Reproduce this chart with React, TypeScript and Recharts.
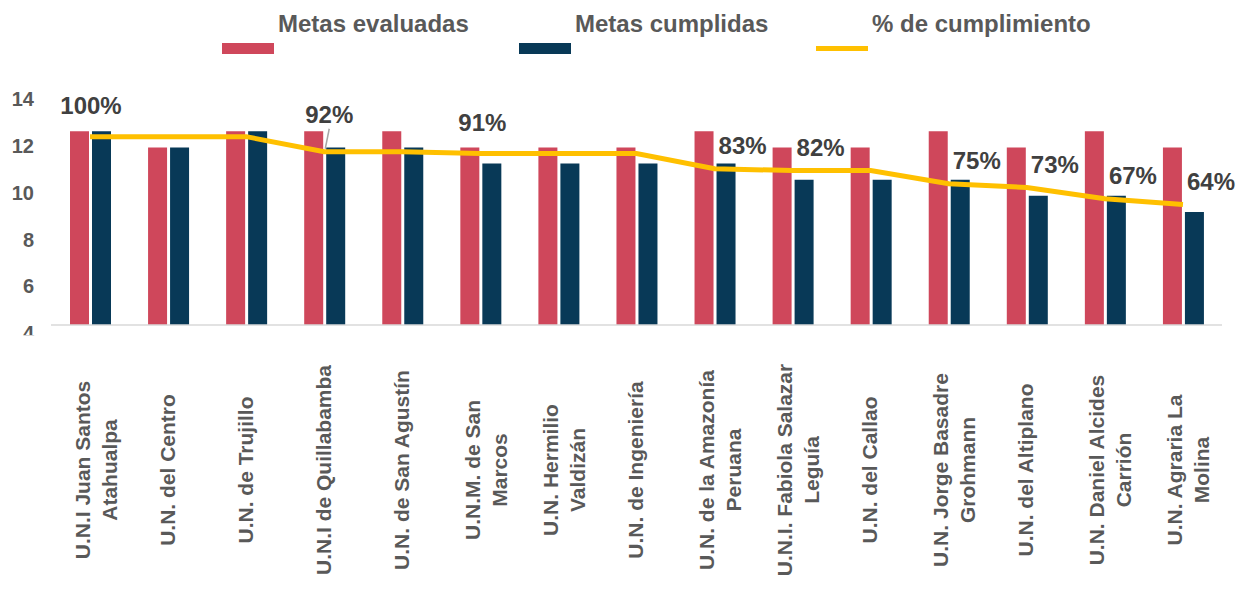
import { ComposedChart, Bar, Line, XAxis, YAxis, LabelList } from 'recharts';

const categories = [
  'U.N.I Juan Santos\nAtahualpa',
  'U.N. del Centro',
  'U.N. de Trujillo',
  'U.N.I de Quillabamba',
  'U.N. de San Agustín',
  'U.N.M. de San\nMarcos',
  'U.N. Hermilio\nValdizán',
  'U.N. de Ingeniería',
  'U.N. de la Amazonía\nPeruana',
  'U.N.I. Fabiola Salazar\nLeguía',
  'U.N. del Callao',
  'U.N. Jorge Basadre\nGrohmann',
  'U.N. del Altiplano',
  'U.N. Daniel Alcides\nCarrión',
  'U.N. Agraria La\nMolina',
];
const metasEvaluadas = [12, 11, 12, 12, 12, 11, 11, 11, 12, 11, 11, 12, 11, 12, 11];
const metasCumplidas = [12, 11, 12, 11, 11, 10, 10, 10, 10, 9, 9, 9, 8, 8, 7];
const cumplimiento = [100, 100, 100, 92, 92, 91, 91, 91, 83, 82, 82, 75, 73, 67, 64];
const pctLabels = ['100%', '', '', '92%', '', '91%', '', '', '83%', '82%', '', '75%', '73%', '67%', '64%'];
const yTicks = [4, 6, 8, 10, 12, 14];

const RED = '#CF475B';
const NAVY = '#083957';
const GOLD = '#FFC000';
const GREY = '#595959';
const FONT = '"Liberation Sans", Arial, sans-serif';

const legendItems = [
  { name: 'Metas evaluadas', color: RED, kind: 'rect' },
  { name: 'Metas cumplidas', color: NAVY, kind: 'rect' },
  { name: '% de cumplimiento', color: GOLD, kind: 'line' },
];

const data = categories.map((name, i) => ({
  name,
  evaluadas: metasEvaluadas[i],
  cumplidas: metasCumplidas[i],
  pct: cumplimiento[i],
  pctLabel: pctLabels[i],
}));

const YTick = ({ x, y, payload }: any) => {
  const low = payload.value === yTicks[0];
  return (
    <g>
      {low && (
        <defs>
          <clipPath id="low-tick-clip">
            <rect x={x - 40} y={y - 20} width={44} height={22} />
          </clipPath>
        </defs>
      )}
      <text
        x={x}
        y={y}
        textAnchor="end"
        dominantBaseline="central"
        fontFamily={FONT}
        fontSize={20}
        fontWeight={700}
        fill={GREY}
        clipPath={low ? 'url(#low-tick-clip)' : undefined}
      >
        {payload.value}
      </text>
    </g>
  );
};

const XTick = ({ x, y, payload }: any) => {
  const lines: string[] = String(payload.value).split('\n');
  const offsets = lines.length > 1 ? [-8, 19] : [-1];
  return (
    <g transform={`translate(${x},${y + 137}) rotate(-90)`}>
      {lines.map((ln, i) => (
        <text
          key={i}
          x={0}
          y={offsets[i]}
          textAnchor="middle"
          dominantBaseline="central"
          fontFamily={FONT}
          fontSize={21}
          fontWeight={700}
          fill={GREY}
        >
          {ln}
        </text>
      ))}
    </g>
  );
};

// nudges for the % labels (Excel moved a few by hand)
const labelNudge: Record<number, [number, number]> = {
  0: [1, -31],
  3: [5, -37],
  5: [2, -31],
};

const PctLabel = ({ x, y, value, index }: any) => {
  if (!value) return null;
  const [dx, dy] = labelNudge[index] ?? [28, -23];
  return (
    <g>
      {index === 3 && (
        <line x1={x + 5} y1={y - 23} x2={x + 1} y2={y - 3} stroke="#A6A6A6" strokeWidth={1.5} />
      )}
      <text
        x={x + dx}
        y={y + dy}
        textAnchor="middle"
        dominantBaseline="central"
        fontFamily={FONT}
        fontSize={24}
        fontWeight={700}
        fill="#404040"
      >
        {value}
      </text>
    </g>
  );
};

const ChartLegend = () => (
  <div style={{ position: 'absolute', left: 0, top: 0, width: 1241, height: 60, fontFamily: FONT }}>
    {legendItems.map((it, i) => {
      const left = 222 + i * 297;
      return (
        <div key={it.name}>
          <div
            style={{
              position: 'absolute',
              left,
              top: it.kind === 'rect' ? 43 : 46,
              width: 52,
              height: it.kind === 'rect' ? 11 : 5,
              background: it.color,
            }}
          />
          <div
            style={{
              position: 'absolute',
              left: left + 56,
              top: 12,
              fontSize: 24,
              lineHeight: '24px',
              fontWeight: 700,
              color: GREY,
              whiteSpace: 'nowrap',
            }}
          >
            {it.name}
          </div>
        </div>
      );
    })}
  </div>
);

const App = () => (
  <div style={{ position: 'absolute', left: 0, top: 0, width: 1241, height: 607, background: '#fff', fontFamily: FONT }}>
    <ComposedChart
      width={1241}
      height={607}
      data={data}
      margin={{ top: 99, right: 19, bottom: 0, left: 0 }}
      barGap={3}
    >
      <XAxis
        dataKey="name"
        interval={0}
        height={282}
        tickLine={false}
        axisLine={{ stroke: '#D9D9D9', strokeWidth: 1.5 }}
        tick={<XTick />}
      />
      <YAxis
        yAxisId="left"
        width={51}
        domain={[4.35, 14]}
        ticks={yTicks}
        interval={0}
        allowDataOverflow
        axisLine={false}
        tickLine={false}
        tickSize={0}
        tickMargin={17}
        tick={<YTick />}
      />
      <YAxis yAxisId="bars" hide orientation="right" width={0} domain={[0, 14]} />
      <YAxis yAxisId="pct" hide orientation="right" width={0} domain={[0, 120]} />
      <Bar yAxisId="bars" dataKey="evaluadas" fill={RED} barSize={19} isAnimationActive={false} />
      <Bar yAxisId="bars" dataKey="cumplidas" fill={NAVY} barSize={19} isAnimationActive={false} />
      <Line
        yAxisId="pct"
        type="linear"
        dataKey="pct"
        stroke={GOLD}
        strokeWidth={5}
        dot={false}
        activeDot={false}
        isAnimationActive={false}
      >
        <LabelList dataKey="pctLabel" content={<PctLabel />} />
      </Line>
    </ComposedChart>
    <ChartLegend />
  </div>
);

export default App;
